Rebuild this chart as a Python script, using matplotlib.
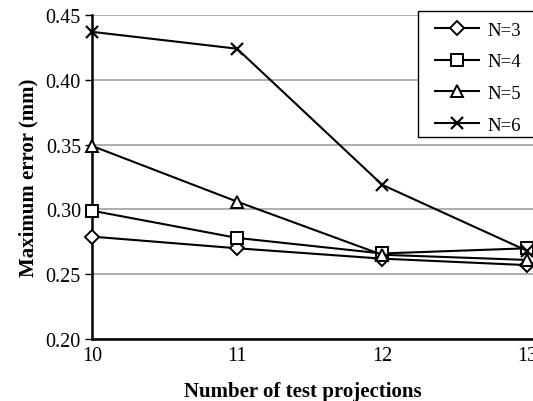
import matplotlib
matplotlib.use("Agg")
import matplotlib.pyplot as plt
from matplotlib.patches import Rectangle

x = [10, 11, 12, 13]
n3 = [0.279, 0.270, 0.262, 0.257]
n4 = [0.299, 0.278, 0.266, 0.270]
n5 = [0.349, 0.306, 0.265, 0.261]
n6 = [0.437, 0.424, 0.319, 0.268]
labels = ["N=3", "N=4", "N=5", "N=6"]
yticks = [0.20, 0.25, 0.30, 0.35, 0.40, 0.45]

plt.rcParams['font.family'] = ['Liberation Serif', 'DejaVu Serif']

W, H = 533, 402
fig = plt.figure(figsize=(W/100, H/100), dpi=100)
ax = fig.add_axes([92/W, 62/H, 1 - 92/W, (340-16)/H])

styles = [dict(marker='D', ms=7), dict(marker='s', ms=8.5), dict(marker='^', ms=8.5), dict(marker='x', ms=8.5, mew=1.6)]
for vals, lab, st in zip([n3, n4, n5, n6], labels, styles):
    kw = dict(color='black', lw=1.5, mfc='white', mec='black', mew=1.4)
    kw.update(st)
    ax.plot(x, vals, label=lab, clip_on=False, zorder=3, **kw)

ax.set_xlim(10, 13.04)
ax.set_ylim(0.20, 0.45)
ax.set_xticks(x)
ax.set_yticks(yticks)
ax.set_yticklabels([f"{v:.2f}" for v in yticks])
ax.yaxis.grid(True, color='#a0a0a0', lw=1.2)
ax.set_axisbelow(True)
for s in ['top', 'right']:
    ax.spines[s].set_visible(False)
ax.spines['left'].set_linewidth(1.8)
ax.spines['bottom'].set_linewidth(1.8)
ax.tick_params(axis='x', length=0, labelsize=14.5, pad=5)
ax.tick_params(axis='y', length=5, width=1, labelsize=14.5, direction='out', pad=3)
ax.set_xlabel("Number of test projections", fontsize=15, fontweight='bold')
ax.xaxis.set_label_coords(0.479, -0.13)
ax.set_ylabel("Maximum error (mm)", fontsize=15, fontweight='bold', labelpad=5)

# legend frame (extends past right edge, as in the reference)
fig.patches.append(Rectangle((418/W, 1 - 138/H), (560-418)/W, 126/H, transform=fig.transFigure,
                             facecolor='white', edgecolor='black', lw=1.0, zorder=5))
leg = fig.legend(loc='upper left', bbox_to_anchor=(426/W, 1 - 13/H), fontsize=13.5,
                 frameon=False, handlelength=2.3, labelspacing=0.78, borderpad=0.5,
                 handletextpad=0.5, borderaxespad=0)
leg.set_zorder(6)

fig.savefig("out.png", dpi=100)
